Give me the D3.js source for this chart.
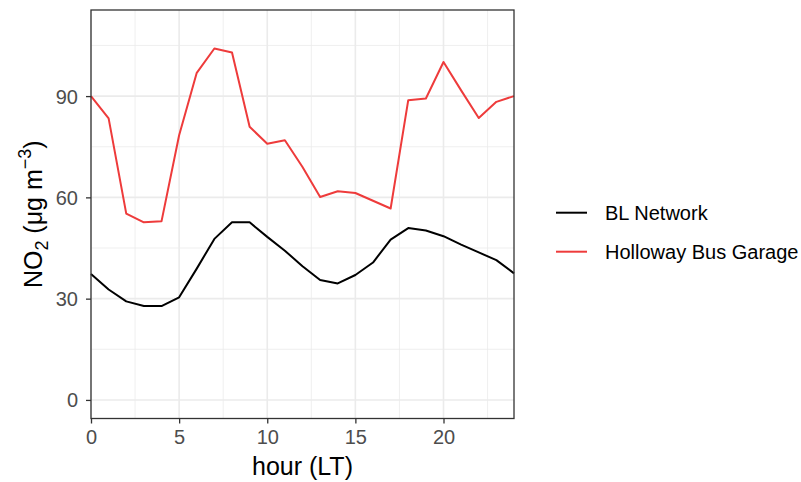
<!DOCTYPE html>
<html>
<head>
<meta charset="utf-8">
<script src="https://cdn.jsdelivr.net/npm/d3@7"></script>
<style>
  body { margin: 0; background: #fff; }
  text { font-family: "Liberation Sans", Arial, sans-serif; }
</style>
</head>
<body>
<svg id="chart" width="801" height="482"></svg>
<script>
// hour of day (local time)
var hours = d3.range(0, 25);
// NO2 (ug m-3)
var blNetwork = [37.3, 32.7, 29.2, 27.8, 27.8, 30.4, 38.9, 47.7, 52.6, 52.6, 48.3, 44.2, 39.6,
    35.5, 34.5, 37.0, 40.7, 47.5, 50.9, 50.2, 48.5, 46.0, 43.7, 41.4, 37.5];
var hollowayBus = [90.0, 83.4, 55.2, 52.6, 52.9, 78.4, 96.9, 104.1, 102.9, 80.9, 75.9, 76.9, 69.0,
    60.1, 61.8, 61.3, 59.0, 56.7, 88.8, 89.3, 100.1, 91.7, 83.5, 88.3, 90.0];
var seriesNames = ["BL Network", "Holloway Bus Garage"];
var seriesColors = ["#000000", "#EE3B3B"];
var xTicks = [0, 5, 10, 15, 20];
var xMinor = [2.5, 7.5, 12.5, 17.5, 22.5];
var yTicks = [0, 30, 60, 90];
var yMinor = [15, 45, 75, 105];

var svg = d3.select('#chart');

// panel box
var panel = { l: 91, r: 514, t: 10, b: 418.5 };

var x = d3.scaleLinear().domain([0, 24]).range([panel.l, panel.r]);
var y = d3.scaleLinear().domain([-5.5, 115.5]).range([panel.b, panel.t]);

// grid lines
var grid = svg.append('g');
grid.selectAll('.xminor').data(xMinor).enter().append('line')
    .attr('x1', d => x(d)).attr('x2', d => x(d))
    .attr('y1', panel.t).attr('y2', panel.b)
    .style('stroke', '#EBEBEB').style('stroke-width', 0.8);
grid.selectAll('.yminor').data(yMinor).enter().append('line')
    .attr('x1', panel.l).attr('x2', panel.r)
    .attr('y1', d => y(d)).attr('y2', d => y(d))
    .style('stroke', '#EBEBEB').style('stroke-width', 0.8);
grid.selectAll('.xmajor').data(xTicks).enter().append('line')
    .attr('x1', d => x(d)).attr('x2', d => x(d))
    .attr('y1', panel.t).attr('y2', panel.b)
    .style('stroke', '#EBEBEB').style('stroke-width', 1.6);
grid.selectAll('.ymajor').data(yTicks).enter().append('line')
    .attr('x1', panel.l).attr('x2', panel.r)
    .attr('y1', d => y(d)).attr('y2', d => y(d))
    .style('stroke', '#EBEBEB').style('stroke-width', 1.6);

// lines
var line = d3.line()
    .x((d, i) => x(hours[i]))
    .y(d => y(d));

[blNetwork, hollowayBus].forEach(function (vals, k) {
    svg.append('path')
        .datum(vals)
        .attr('d', line)
        .attr('fill', 'none')
        .attr('stroke', seriesColors[k])
        .attr('stroke-width', 2)
        .attr('stroke-linejoin', 'round');
});

// panel border
svg.append('rect')
    .attr('x', panel.l).attr('y', panel.t)
    .attr('width', panel.r - panel.l).attr('height', panel.b - panel.t)
    .attr('fill', 'none').attr('stroke', '#333333').attr('stroke-width', 1.3);

// axes
var xAxis = svg.append('g')
    .attr('transform', 'translate(0,' + panel.b + ')')
    .call(d3.axisBottom(x).tickValues(xTicks).tickSize(5).tickPadding(6));
var yAxis = svg.append('g')
    .attr('transform', 'translate(' + panel.l + ',0)')
    .call(d3.axisLeft(y).tickValues(yTicks).tickSize(5).tickPadding(8));

[xAxis, yAxis].forEach(function (a) {
    a.select('.domain').remove();
    a.selectAll('.tick line').attr('stroke', '#333333').attr('stroke-width', 1.3);
    a.selectAll('.tick text')
        .attr('fill', '#4D4D4D')
        .style('font-size', '20px')
        .style('font-family', '"Liberation Sans", Arial, sans-serif');
});
yAxis.selectAll('.tick text').attr('dy', '0.35em');

// axis titles
svg.append('text')
    .attr('x', (panel.l + panel.r) / 2)
    .attr('y', 475)
    .attr('text-anchor', 'middle')
    .style('font-size', '25px')
    .text('hour (LT)');

var yt = svg.append('text')
    .attr('transform', 'translate(42,' + ((panel.t + panel.b) / 2) + ') rotate(-90)')
    .attr('text-anchor', 'middle')
    .style('font-size', '25px');
yt.append('tspan').text('NO');
yt.append('tspan').text('2').style('font-size', '18px').attr('dy', 6);
yt.append('tspan').text(' (μg m').attr('dy', -6);
yt.append('tspan').text('−3').style('font-size', '18px').attr('dy', -11);
yt.append('tspan').text(')').attr('dy', 11);

// legend
var legend = svg.append('g');
seriesNames.forEach(function (name, k) {
    var ly = 212.7 + k * 39;
    legend.append('line')
        .attr('x1', 556).attr('x2', 587)
        .attr('y1', ly).attr('y2', ly)
        .attr('stroke', seriesColors[k]).attr('stroke-width', 2);
    legend.append('text')
        .attr('x', 605).attr('y', ly)
        .attr('dy', '0.35em')
        .style('font-size', '20px')
        .text(name);
});
</script>
</body>
</html>
